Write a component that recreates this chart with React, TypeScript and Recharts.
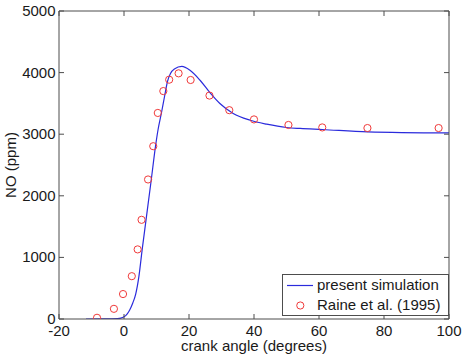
import React from "react";
import {
  ComposedChart,
  Legend,
  Line,
  Scatter,
  XAxis,
  YAxis,
} from "recharts";

// simulated NO history
const simAngle = [
  -11.7, -6, -2, -1, 0, 1, 1.75, 2.7, 3.6, 4.6, 5.6, 6.8, 8.4, 9.7, 10.5, 11.5,
  12.5, 13.4, 14.3, 15.5, 17.8, 20.3, 23.4, 26.5, 29.5, 33.6, 38.8, 43.9, 50,
  54.2, 61, 75, 100,
];
const simNO = [
  0, 2, 8, 14, 35, 85, 146, 260, 405, 697, 1130, 1617, 2265, 2806, 3080, 3340,
  3620, 3860, 3985, 4060, 4100, 4038, 3876, 3670, 3498, 3336, 3227, 3163, 3109,
  3093, 3076, 3038, 3020,
];

// measurements, Raine et al. (1995)
const raineAngle = [
  -8.3, -3.1, -0.3, 2.4, 4.2, 5.4, 7.4, 9.0, 10.4, 12.1, 13.9, 16.8, 20.5,
  26.3, 32.4, 40.0, 50.6, 61.0, 74.9, 96.8,
];
const raineNO = [
  20, 165, 405, 695, 1130, 1610, 2265, 2805, 3345, 3700, 3885, 3988, 3880,
  3627, 3390, 3240, 3150, 3110, 3100, 3100,
];

const xTicks = [-20, 0, 20, 40, 60, 80, 100];
const yTicks = [0, 1000, 2000, 3000, 4000, 5000];

const simData = simAngle.map((x, i) => ({ x, y: simNO[i] }));
const raineData = raineAngle.map((x, i) => ({ x, y: raineNO[i] }));

const FONT = '"Liberation Sans", Arial, Helvetica, sans-serif';
const AXIS = "#4d4d4d";
const TEXT = "#1a1a1a";
const BLUE = "#2b2bdc";
const RED = "#f03a3a";
const TICK = 5;

const BottomTick = ({ x, y, payload }: any) => (
  <g>
    <line x1={x} y1={y} x2={x} y2={y - TICK} stroke={AXIS} />
    <text x={x} y={y + 16.5} textAnchor="middle" fill={TEXT} fontSize={15} fontFamily={FONT}>
      {payload.value}
    </text>
  </g>
);

const TopTick = ({ x, y }: any) => (
  <line x1={x} y1={y} x2={x} y2={y + TICK} stroke={AXIS} />
);

const LeftTick = ({ x, y, payload }: any) => (
  <g>
    <line x1={x} y1={y} x2={x + TICK} y2={y} stroke={AXIS} />
    <text x={x - 3.5} y={y + 5} textAnchor="end" fill={TEXT} fontSize={15} fontFamily={FONT}>
      {payload.value}
    </text>
  </g>
);

const RightTick = ({ x, y }: any) => (
  <line x1={x} y1={y} x2={x - TICK} y2={y} stroke={AXIS} />
);

const OpenCircle = ({ cx, cy }: any) => (
  <circle cx={cx} cy={cy} r={3.6} fill="none" stroke={RED} strokeWidth={1} />
);

const LegendBox = () => (
  <div
    style={{
      width: 167,
      height: 42,
      boxSizing: "border-box",
      border: `1px solid ${AXIS}`,
      background: "#fff",
      fontFamily: FONT,
      fontSize: 15,
      color: TEXT,
      lineHeight: "20px",
    }}
  >
    <div style={{ display: "flex", alignItems: "center", height: 20 }}>
      <svg width={34} height={20}>
        <line x1={4} y1={10.5} x2={30} y2={10.5} stroke={BLUE} strokeWidth={1.2} />
      </svg>
      <span>present simulation</span>
    </div>
    <div style={{ display: "flex", alignItems: "center", height: 20 }}>
      <svg width={34} height={20}>
        <circle cx={17.3} cy={10.5} r={3.6} fill="none" stroke={RED} />
      </svg>
      <span>Raine et al. (1995)</span>
    </div>
  </div>
);

export default function App() {
  return (
    <div style={{ position: "absolute", left: 0, top: 0, background: "#fff" }}>
      <ComposedChart
        width={470}
        height={356}
        margin={{ top: 10, right: 20, bottom: 0, left: 0 }}
        style={{ fontFamily: FONT }}
      >
        <XAxis
          type="number"
          dataKey="x"
          domain={[-20, 100]}
          ticks={xTicks}
          interval={0}
          height={37}
          tickSize={0}
          tickMargin={0}
          tickLine={false}
          tick={<BottomTick />}
          axisLine={{ stroke: AXIS }}
          allowDataOverflow
          label={{
            content: ({ viewBox }: any) => (
              <text
                x={viewBox.x + viewBox.width / 2}
                y={351}
                textAnchor="middle"
                fill={TEXT}
                fontSize={15}
                fontFamily={FONT}
              >
                crank angle (degrees)
              </text>
            ),
          }}
        />
        {/* mirrored box axes, top and right */}
        <XAxis
          xAxisId="top"
          orientation="top"
          type="number"
          dataKey="x"
          domain={[-20, 100]}
          ticks={xTicks}
          interval={0}
          height={1}
          tickSize={0}
          tickMargin={0}
          tickLine={false}
          tick={<TopTick />}
          axisLine={{ stroke: AXIS }}
          allowDataOverflow
        />
        <YAxis
          type="number"
          domain={[0, 5000]}
          ticks={yTicks}
          interval={0}
          width={59}
          tickSize={0}
          tickMargin={0}
          tickLine={false}
          tick={<LeftTick />}
          axisLine={{ stroke: AXIS }}
          allowDataOverflow
          label={{
            content: ({ viewBox }: any) => {
              const cy = viewBox.y + viewBox.height / 2;
              return (
                <text
                  x={10}
                  y={cy}
                  transform={`rotate(-90, 10, ${cy})`}
                  textAnchor="middle"
                  dominantBaseline="central"
                  fill={TEXT}
                  fontSize={15}
                  fontFamily={FONT}
                >
                  NO (ppm)
                </text>
              );
            },
          }}
        />
        <YAxis
          yAxisId="right"
          orientation="right"
          type="number"
          domain={[0, 5000]}
          ticks={yTicks}
          interval={0}
          width={1}
          tickSize={0}
          tickMargin={0}
          tickLine={false}
          tick={<RightTick />}
          axisLine={{ stroke: AXIS }}
          allowDataOverflow
        />
        <Line
          data={simData}
          dataKey="y"
          type="monotone"
          stroke={BLUE}
          strokeWidth={1.2}
          dot={false}
          isAnimationActive={false}
        />
        <Scatter
          data={raineData}
          dataKey="y"
          xAxisId="top"
          yAxisId="right"
          shape={<OpenCircle />}
          isAnimationActive={false}
        />
        <Legend
          layout="vertical"
          align="center"
          verticalAlign="middle"
          content={<LegendBox />}
          wrapperStyle={{ left: 282, top: 274, width: 167, height: 42 }}
        />
      </ComposedChart>
    </div>
  );
}
